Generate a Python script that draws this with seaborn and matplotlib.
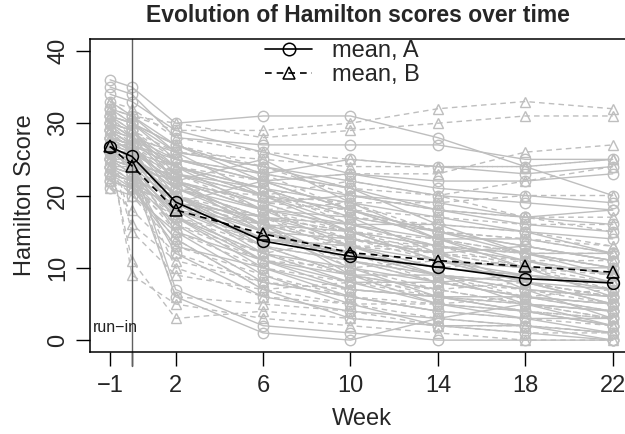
import numpy as np
import pandas as pd
import matplotlib
matplotlib.use("Agg")
import matplotlib.pyplot as plt
from matplotlib.lines import Line2D
import seaborn as sns

weeks = [-1, 0, 2, 6, 10, 14, 18, 22]
week_ticks = [-1, 0, 2, 6, 10, 14, 18, 22]
week_tick_labels = ["\u22121", "", "2", "6", "10", "14", "18", "22"]
y_ticks = [0, 10, 20, 30, 40]

mean_A = [26.7, 25.4, 19.1, 13.7, 11.6, 10.1, 8.5, 7.9]
mean_B = [26.8, 24.1, 18.0, 14.7, 12.1, 11.0, 10.2, 9.4]

N = None
subjects_A = [
    [36, 35, 30, 31, 31, 28, 24, 20],
    [35, 34, 28, 27, 27, 27, 25, 25],
    [30, 28, 22, 15, 10, 6, 4, 2],
    [28, 27, 24, 20, 18, 15, 12, 10],
    [27, 26, 19, 12, 8, 5, 3, 1],
    [25, 24, 17, 10, 7, 6, 5, 4],
    [31, 30, 25, 22, 20, 19, 17, 16],
    [26, 25, 18, 11, 9, 9, 7, 6],
    [24, 23, 12, 6, 4, 3, 2, 0],
    [29, 27, 20, 14, 12, 10, 9, 8],
    [23, 22, 16, 9, 5, 2, 1, 0],
    [32, 31, 26, 24, 22, 20, 19, 18],
    [27, 27, 21, 17, 14, 12, 8, 5],
    [26, 24, 15, 8, 6, 4, 3, 3],
    [28, 26, 22, 18, 16, 14, 14, 12],
    [25, 25, 20, 13, 9, 7, N, N],
    [30, 29, 23, 19, 15, 11, 9, 7],
    [22, 21, 14, 7, 3, 2, 2, 1],
    [33, 31, 27, 23, 21, 18, 16, 15],
    [24, 23, 17, 12, 10, 8, 6, 5],
    [27, 25, 7, 2, 1, 0, 0, 0],
    [29, 28, 24, 21, 19, 17, 15, 12],
    [26, 26, 19, 14, 13, 11, 10, 10],
    [23, 22, 18, 13, 11, 9, 8, 7],
    [28, 27, 21, 16, 13, 10, N, N],
    [31, 30, 26, 20, 16, 13, 11, 9],
    [25, 23, 6, 1, 0, 3, 5, 4],
    [27, 25, 20, 15, 12, 9, 7, 6],
    [24, 24, 19, 17, 16, 16, 15, 14],
    [30, 29, 22, 16, 11, 8, 6, 5],
    [28, 26, 19, 22, 23, 22, 22, 23],
    [26, 25, 21, 18, 17, 15, 13, 11],
    [22, 21, 13, 10, 6, 4, N, N],
    [29, 27, 17, 11, 7, 6, 6, 4],
    [34, 33, 29, 26, 23, 21, 20, 19],
    [25, 24, 22, 19, 20, 18, 17, 18],
    [21, 20, 15, 11, 8, 8, 9, 8],
    [30, 28, 25, 23, 25, 24, 23, 24],
    [27, 26, 23, 21, 17, 12, 7, 3],
    [24, 22, 20, 16, 9, 5, 4, 2],
    [31, 29, 24, 18, 13, 9, 5, 2],
    [26, 25, 22, 25, 19, 14, 10, 6],
    [29, 28, 26, 24, 21, 16, 12, 9],
    [23, 21, 19, 15, 14, 12, 13, 11],
    [28, 27, 25, 22, 18, 14, 11, 8],
    [25, 23, 18, 16, 15, 13, 12, 12],
    [32, 30, 27, 22, 18, 15, 13, 11],
    [26, 24, 23, 20, 15, 11, 8, 5],
]
subjects_B = [
    [33, 31, 29, 29, 30, 32, 33, 32],
    [32, 31, 30, 28, 29, 30, 31, 31],
    [28, 26, 24, 22, 23, 23, 26, 27],
    [27, 16, 11, 8, 6, 4, 3, 2],
    [26, 9, 5, 3, 2, 1, 0, 0],
    [25, 11, 3, 4, 3, 2, 1, 1],
    [29, 27, 22, 18, 15, 13, 11, 9],
    [27, 25, 18, 14, 12, 10, 9, 8],
    [24, 22, 15, 10, 8, 7, 5, 4],
    [30, 28, 24, 20, 17, 15, 14, 13],
    [26, 24, 17, 12, 9, 7, 5, 3],
    [31, 29, 25, 23, 21, 20, 22, 24],
    [23, 20, 13, 9, 6, 5, 4, 3],
    [28, 27, 21, 17, 15, 14, 12, 10],
    [25, 23, 16, 11, 10, 11, 10, 9],
    [32, 30, 27, 24, 20, 18, 17, 17],
    [22, 21, 14, 7, 5, 3, 2, 1],
    [27, 24, 19, 16, 14, 12, 10, N],
    [29, 26, 20, 15, 12, 9, 6, 5],
    [24, 22, 18, 14, 13, 13, 12, 12],
    [30, 29, 26, 25, 24, 24, 24, 25],
    [26, 25, 19, 13, 9, 6, 4, 2],
    [28, 26, 22, 19, 18, 17, 16, 16],
    [23, 22, 17, 13, 11, 9, 8, 6],
    [27, 23, 10, 6, 5, 5, 6, 7],
    [31, 28, 23, 18, 14, 11, 8, 6],
    [25, 24, 20, 16, 13, 12, 11, 11],
    [29, 27, 23, 20, 19, 19, 20, 20],
    [26, 24, 6, 5, 4, 2, 2, 1],
    [24, 23, 19, 17, 15, 12, 10, 8],
    [28, 25, 20, 15, 11, 8, 7, 5],
    [33, 32, 28, 26, 25, 24, 24, 25],
    [21, 18, 12, 8, 7, 6, 5, 3],
    [30, 27, 21, 17, 13, 10, 9, 7],
    [26, 15, 9, 7, 8, 6, 4, 3],
    [22, 21, 17, 14, 12, 10, 11, 9],
    [28, 27, 24, 21, 16, 13, 10, 7],
    [25, 24, 22, 18, 19, 15, 14, 12],
    [31, 30, 27, 23, 18, 14, 12, 10],
    [27, 25, 21, 20, 22, 20, 17, 15],
    [23, 22, 20, 17, 12, 8, 6, 4],
    [29, 26, 22, 16, 10, 7, 8, 6],
    [26, 26, 24, 21, 17, 16, 15, 13],
    [24, 21, 16, 12, 14, 13, 12, 10],
]

sns.set_theme(style="ticks")
plt.rcParams["font.family"] = ["Liberation Sans", "DejaVu Sans"]

rows = []
for grp, subs in (("A", subjects_A), ("B", subjects_B)):
    for i, vals in enumerate(subs):
        for w, v in zip(weeks, vals):
            if v is not None:
                rows.append({"subject": f"{grp}{i}", "group": grp, "week": w, "score": v})
df = pd.DataFrame(rows)

mean_rows = []
for grp, vals in (("A", mean_A), ("B", mean_B)):
    for w, v in zip(weeks, vals):
        mean_rows.append({"group": grp, "week": w, "score": v})
mdf = pd.DataFrame(mean_rows)

fig = plt.figure(figsize=(6.25, 4.34), dpi=100)
ax = fig.add_axes([0.144, 0.1896, 0.8685, 0.7198])

gray = "#BEBEBE"
sns.lineplot(data=df, x="week", y="score", hue="group", style="group",
             units="subject", estimator=None, sort=False,
             palette={"A": gray, "B": gray},
             dashes={"A": "", "B": (4, 3)},
             markers={"A": "o", "B": "^"},
             markersize=7.5, markerfacecolor="none", markeredgecolor=gray,
             markeredgewidth=1.0, linewidth=1.0, legend=False, ax=ax, zorder=1)

ax.axvline(0, color="#606060", lw=1.0, zorder=2, clip_on=False, ymin=-0.045)

sns.lineplot(data=mdf, x="week", y="score", hue="group", style="group",
             estimator=None, sort=False,
             palette={"A": "black", "B": "black"},
             dashes={"A": "", "B": (4, 3)},
             markers={"A": "o", "B": "^"},
             markersize=8.5, markerfacecolor="none", markeredgecolor="black",
             markeredgewidth=1.1, linewidth=1.2, legend=False, ax=ax, zorder=3)

ax.set_xlim(-1.92, 22.92)
ax.set_ylim(-1.6, 41.6)
ax.set_xticks(week_ticks)
ax.set_xticklabels(week_tick_labels)
ax.set_yticks(y_ticks)
ax.set_yticklabels([str(t) for t in y_ticks], rotation=90, va="center")
ax.tick_params(axis="both", direction="out", length=10, width=1.0,
               color="black", labelsize=17, pad=5)
ax.tick_params(axis="x", pad=7)
for s in ax.spines.values():
    s.set_color("black")
    s.set_linewidth(1.1)
    s.set_visible(True)

ax.set_xlabel("Week", fontsize=17, labelpad=8)
ax.set_ylabel("Hamilton Score", fontsize=17, labelpad=8)
ax.text(0.25, 1.8, "run\u2212in", ha="right", va="center", fontsize=11.5, color="#222222")

fig.text(0.573, 0.965, "Evolution of Hamilton scores over time",
         ha="center", va="center", fontsize=16.5, fontweight="bold")

handles = [
    Line2D([], [], color="black", lw=1.2, marker="o", ms=9, mfc="none", mew=1.1),
    Line2D([], [], color="black", lw=1.2, ls=(0, (4, 3)), marker="^", ms=9, mfc="none", mew=1.1),
]
fig.legend(handles, ["mean, A", "mean, B"], loc="upper left",
           bbox_to_anchor=(0.405, 0.935), frameon=False, fontsize=17,
           handlelength=2.0, handletextpad=0.85, labelspacing=0.1,
           borderpad=0, numpoints=1)

fig.savefig("out.png", dpi=100)
